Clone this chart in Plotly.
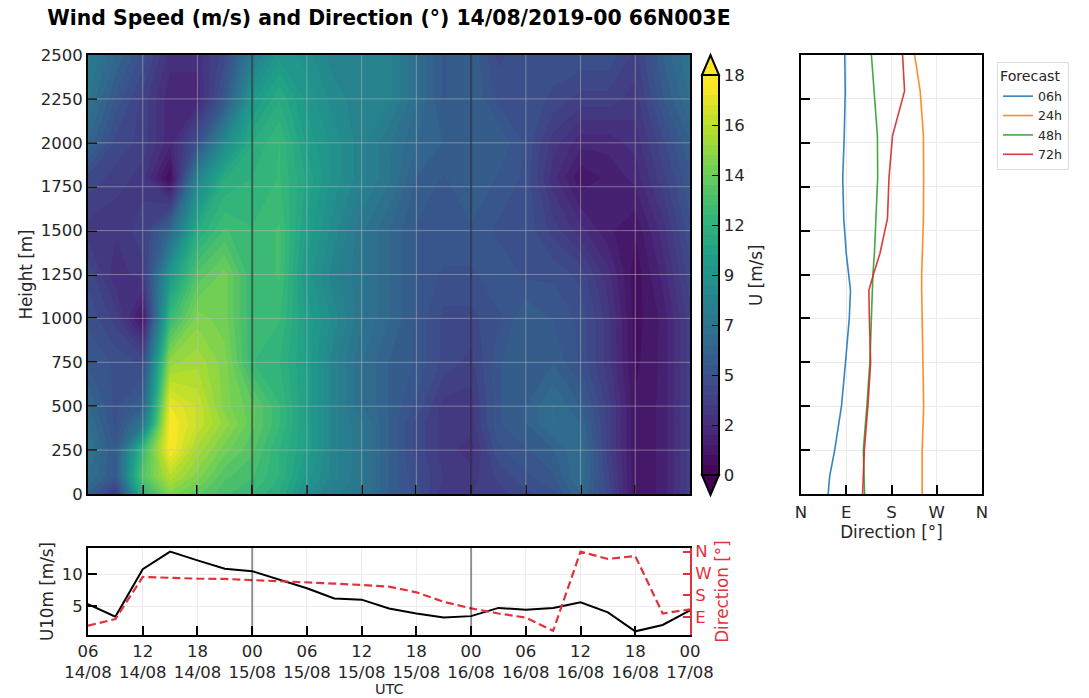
import plotly.graph_objects as go

W, H = 1089, 698

times = ["2019-08-14 06:00", "2019-08-14 09:00", "2019-08-14 12:00", "2019-08-14 15:00", "2019-08-14 18:00",
         "2019-08-14 21:00", "2019-08-15 00:00", "2019-08-15 03:00", "2019-08-15 06:00", "2019-08-15 09:00",
         "2019-08-15 12:00", "2019-08-15 15:00", "2019-08-15 18:00", "2019-08-15 21:00", "2019-08-16 00:00",
         "2019-08-16 03:00", "2019-08-16 06:00", "2019-08-16 09:00", "2019-08-16 12:00", "2019-08-16 15:00",
         "2019-08-16 18:00", "2019-08-16 21:00", "2019-08-17 00:00"]
heights = [0, 100, 250, 400, 500, 750, 1000, 1250, 1500, 1800, 2000, 2250, 2500]
wind = [
    [5.5, 3, 11.5, 14.5, 13.5, 12.5, 12, 11, 9, 7.5, 7, 5.5, 4.5, 2.8, 3.2, 3.5, 4, 4.5, 6, 4, 1, 1.5, 3.5],
    [6.5, 5, 13, 16, 14.5, 13, 12.5, 11.5, 9.5, 8, 7, 5.5, 4.2, 3.2, 3, 3.8, 4.5, 5, 6.5, 3.8, 1, 1.5, 3.5],
    [7, 5, 12, 18, 15.5, 14, 13, 11.5, 10, 8, 7, 5.5, 4, 3, 2.5, 4.5, 5, 5.5, 6.5, 3.5, 1, 1.5, 3.5],
    [6.5, 4.5, 7, 18, 16.5, 15, 13.5, 12, 10, 8, 7, 5.5, 4, 3, 3, 5, 5.5, 6.5, 6, 3.5, 1, 1.5, 3.5],
    [6, 4.5, 5.5, 17.5, 16.5, 14.5, 13.5, 12, 10, 8, 6.5, 5.5, 4.5, 3, 3, 5, 5.5, 6.5, 5.5, 3.5, 1, 1.5, 3.5],
    [5, 4.5, 4, 15, 15.5, 14.5, 12, 11.5, 10, 8, 6.5, 5.5, 5, 4, 3.5, 5, 5.5, 5.5, 4.5, 3, 0.8, 1.5, 3.5],
    [4.5, 3.5, 1, 12, 14.5, 14, 12, 12, 10, 8.5, 7, 6, 5, 4, 4, 4.5, 5.5, 5, 4.5, 3, 0.7, 1.5, 3.5],
    [4, 2.5, 3, 9.5, 13, 14, 12, 12.5, 9.5, 8, 7, 6, 5, 4.5, 4.5, 5, 4.5, 4.5, 4, 2.5, 0.6, 2, 4],
    [3, 2.8, 3.5, 6, 11, 12.5, 12, 12.5, 10, 8.5, 7, 6, 5, 5, 5, 4.5, 4.5, 3.5, 2.5, 1.5, 1, 2.5, 4.5],
    [4, 3.5, 3, 0.5, 8, 11, 11.5, 12, 10.5, 9, 8, 7, 5.5, 5, 5.5, 5, 4.5, 2.5, 1, 1.5, 2, 3.5, 5],
    [6, 4, 3.5, 2, 4.5, 8.5, 11, 12, 10, 9, 8, 7, 6, 5.5, 5.5, 5.5, 4.5, 3, 2, 2, 2.5, 4, 5.5],
    [7, 5, 3.5, 2, 2, 5, 9.5, 11, 9.5, 8.5, 8, 8, 6.5, 5, 5.5, 4.5, 4.5, 4, 3.5, 3.5, 3, 5, 6.5],
    [7.5, 6, 4.5, 2.5, 2.5, 4, 7.5, 9.5, 9, 8, 8, 8, 6.5, 5, 5.5, 4, 4.5, 4.5, 4.5, 4.5, 3.5, 5.5, 7],
]
u10m = [5.3, 3.3, 10.8, 13.6, 12.2, 10.9, 10.5, 9.2, 7.8, 6.2, 6.0, 4.6, 3.8, 3.2, 3.4, 4.7, 4.4, 4.7, 5.6, 4.0, 1.0, 2.0, 4.3]
dir10m = [56, 83, 256, 252, 249, 248, 244, 240, 234, 229, 223, 216, 193, 154, 127, 106, 89, 35, 360, 330, 342, 106, 123]

tick_times = ["2019-08-14 06:00", "2019-08-14 12:00", "2019-08-14 18:00", "2019-08-15 00:00", "2019-08-15 06:00",
              "2019-08-15 12:00", "2019-08-15 18:00", "2019-08-16 00:00", "2019-08-16 06:00", "2019-08-16 12:00",
              "2019-08-16 18:00", "2019-08-17 00:00"]
tick_labels = ["06<br>14/08", "12<br>14/08", "18<br>14/08", "00<br>15/08", "06<br>15/08", "12<br>15/08",
               "18<br>15/08", "00<br>16/08", "06<br>16/08", "12<br>16/08", "18<br>16/08", "00<br>17/08"]
day_marks = ["2019-08-15 00:00", "2019-08-16 00:00"]
height_ticks = [0, 250, 500, 750, 1000, 1250, 1500, 1750, 2000, 2250, 2500]

profile_heights = [0, 100, 250, 500, 750, 1000, 1160, 1250, 1370, 1570, 1800, 2040, 2295, 2500]
forecast_names = ["06h", "24h", "48h", "72h"]
dir_06h = [54, 57, 67, 80.5, 88.5, 96, 98.5, 95, 90, 85, 83, 86, 88, 87]
dir_24h = [241, 241, 241, 244, 242, 240, 240, 240, 241.5, 243.5, 244, 243.5, 237, 226]
dir_48h = [126.5, 125, 124, 131, 137, 140, 142, 143, 146, 149, 152.5, 152, 146, 140]
dir_72h = [122.5, 124, 126, 133, 138.5, 136, 135, 144, 157, 172, 175, 182, 206, 202]
forecast_dirs = [dir_06h, dir_24h, dir_48h, dir_72h]
forecast_colors = ["rgba(31,119,180,0.9)", "rgba(255,127,14,0.9)", "rgba(44,160,44,0.9)", "rgba(214,39,40,0.9)"]

compass_vals = [0, 90, 180, 270, 360]
compass_text = ["N", "E", "S", "W", "N"]
cb_vals = [0, 2.3, 4.6, 6.9, 9.2, 11.5, 13.8, 16.1, 18.4]
cb_text = ["0", "2", "5", "7", "9", "12", "14", "16", "18"]

FONT = "DejaVu Sans"
TS = 16.5
LS = 16.8
RED = "#e0323a"
INK = "#262626"


def fx(px):
    return px / W


def fy(px):
    return 1 - px / H


fig = go.Figure()
fig.add_trace(go.Contour(
    x=times, y=heights, z=wind, colorscale="Viridis", zmin=0, zmax=18.4,
    contours=dict(start=0, end=18.4, size=0.46, coloring="fill", showlines=False),
    line=dict(width=0, smoothing=0), xaxis="x", yaxis="y", showlegend=False,
    colorbar=dict(
        x=fx(702), xanchor="left", xpad=0, y=fy(475), yanchor="bottom", ypad=0, len=400 / H,
        thickness=17, outlinewidth=2, outlinecolor="black", tickmode="array", tickvals=cb_vals,
        ticktext=cb_text, ticks="inside", ticklen=8, tickwidth=1, tickcolor="black",
        tickfont=dict(family=FONT, size=TS, color=INK),
    ),
))
for name, vals, col in zip(forecast_names, forecast_dirs, forecast_colors):
    fig.add_trace(go.Scatter(x=vals, y=profile_heights, mode="lines", name=name,
                             line=dict(color=col, width=1.6), xaxis="x2", yaxis="y2"))
fig.add_trace(go.Scatter(x=times, y=u10m, mode="lines", line=dict(color="black", width=2),
                         xaxis="x3", yaxis="y3", showlegend=False))
fig.add_trace(go.Scatter(x=times, y=dir10m, mode="lines", line=dict(color=RED, width=2.2, dash="8px,4px"),
                         xaxis="x3", yaxis="y4", showlegend=False))

shapes = []
for t in tick_times[1:-1]:
    shapes.append(dict(type="line", xref="x", yref="paper", x0=t, x1=t, y0=fy(494), y1=fy(55),
                       line=dict(color="rgba(190,190,190,0.5)", width=1), layer="above"))
for h in height_ticks[1:-1]:
    shapes.append(dict(type="line", xref="paper", yref="y", x0=fx(88), x1=fx(690), y0=h, y1=h,
                       line=dict(color="rgba(190,190,190,0.5)", width=1), layer="above"))
for t in day_marks:
    shapes.append(dict(type="line", xref="x", yref="paper", x0=t, x1=t, y0=fy(494), y1=fy(55),
                       line=dict(color="rgba(0,0,0,0.45)", width=2), layer="above"))
    shapes.append(dict(type="line", xref="x3", yref="paper", x0=t, x1=t, y0=fy(635), y1=fy(548),
                       line=dict(color="rgba(0,0,0,0.4)", width=2), layer="above"))
shapes.append(dict(type="path", xref="paper", yref="paper", layer="above",
                   path=f"M {fx(702)},{fy(75)} L {fx(710.5)},{fy(55)} L {fx(719)},{fy(75)} Z",
                   fillcolor="#fde725", line=dict(color="black", width=2)))
shapes.append(dict(type="path", xref="paper", yref="paper", layer="above",
                   path=f"M {fx(702)},{fy(475)} L {fx(710.5)},{fy(495)} L {fx(719)},{fy(475)} Z",
                   fillcolor="#440154", line=dict(color="black", width=2)))

frame = dict(showline=True, linecolor="black", linewidth=2, mirror=True, ticks="inside", ticklen=9,
             tickwidth=1.5, tickcolor="black", tickfont=dict(family=FONT, size=TS, color=INK), zeroline=False)
GRID = "#ebebeb"
t0, t1 = times[0], times[-1]
fig.update_layout(
    width=W, height=H, margin=dict(l=0, r=0, t=0, b=0, autoexpand=False), plot_bgcolor="white", paper_bgcolor="white",
    font=dict(family=FONT, color=INK),
    title=dict(text="<b>Wind Speed (m/s) and Direction (°) 14/08/2019-00 66N003E</b>",
               x=fx(389), xref="paper", xanchor="center", y=fy(18), yanchor="middle",
               font=dict(family=FONT, size=20.4, color="black")),
    xaxis=dict(domain=[fx(88), fx(690)], range=[t0, t1], type="date", tickmode="array", tickvals=tick_times,
               showticklabels=False, showgrid=False, **frame),
    yaxis=dict(domain=[fy(494), fy(55)], range=[0, 2500], tickmode="array", tickvals=height_ticks, showgrid=False,
               title=dict(text="Height [m]", standoff=4, font=dict(family=FONT, size=LS, color=INK)), **frame),
    xaxis2=dict(domain=[fx(801), fx(982)], range=[0, 360], anchor="y2", tickmode="array", tickvals=compass_vals,
                ticktext=compass_text, showgrid=True, gridcolor=GRID, ticklabelstandoff=2,
                title=dict(text="Direction [°]", standoff=5, font=dict(family=FONT, size=LS, color=INK)), **frame),
    yaxis2=dict(domain=[fy(494), fy(55)], range=[0, 2500], anchor="x2", tickmode="array", tickvals=height_ticks,
                showticklabels=False, showgrid=True, gridcolor=GRID, **frame),
    xaxis3=dict(domain=[fx(88), fx(690)], range=[t0, t1], type="date", anchor="y3", tickmode="array",
                tickvals=tick_times, ticktext=tick_labels, showgrid=True, gridcolor=GRID, **frame),
    yaxis3=dict(domain=[fy(635), fy(548)], range=[0.42, 14.16], anchor="x3", tickmode="array", tickvals=[5, 10],
                showgrid=True, gridcolor=GRID,
                title=dict(text="U10m [m/s]", standoff=4, font=dict(family=FONT, size=LS, color=INK)), **frame),
    yaxis4=dict(domain=[fy(635), fy(548)], range=[17.6, 375], anchor="x3", overlaying="y3", side="right",
                tickmode="array", tickvals=[90, 180, 270, 360], ticktext=["E", "S", "W", "N"], showgrid=False,
                showline=True, linecolor=RED, linewidth=2, ticks="inside", ticklen=7, tickwidth=1.5, tickcolor=RED,
                tickfont=dict(family=FONT, size=TS, color=RED), zeroline=False,
                title=dict(text="Direction [°]", standoff=4, font=dict(family=FONT, size=LS, color=RED))),
    legend=dict(x=fx(997), xanchor="left", y=fy(62), yanchor="top", bgcolor="white", bordercolor="#dddddd",
                borderwidth=1, title=dict(text="Forecast", font=dict(family=FONT, size=14.2, color=INK)),
                font=dict(family=FONT, size=12.6, color=INK), itemwidth=30, tracegroupgap=0),
    shapes=shapes,
    annotations=[
        dict(text="UTC", xref="paper", yref="paper", x=fx(389), y=fy(689), xanchor="center",
             yanchor="middle", showarrow=False, font=dict(family=FONT, size=14.5, color=INK)),
        dict(text="U [m/s]", xref="paper", yref="paper", x=fx(756), y=fy(276), xanchor="center",
             yanchor="middle", textangle=-90, showarrow=False, font=dict(family=FONT, size=LS, color=INK)),
    ],
)
fig.write_html("out.html", config={"displayModeBar": False}, post_script="document.body.style.margin='0';")
